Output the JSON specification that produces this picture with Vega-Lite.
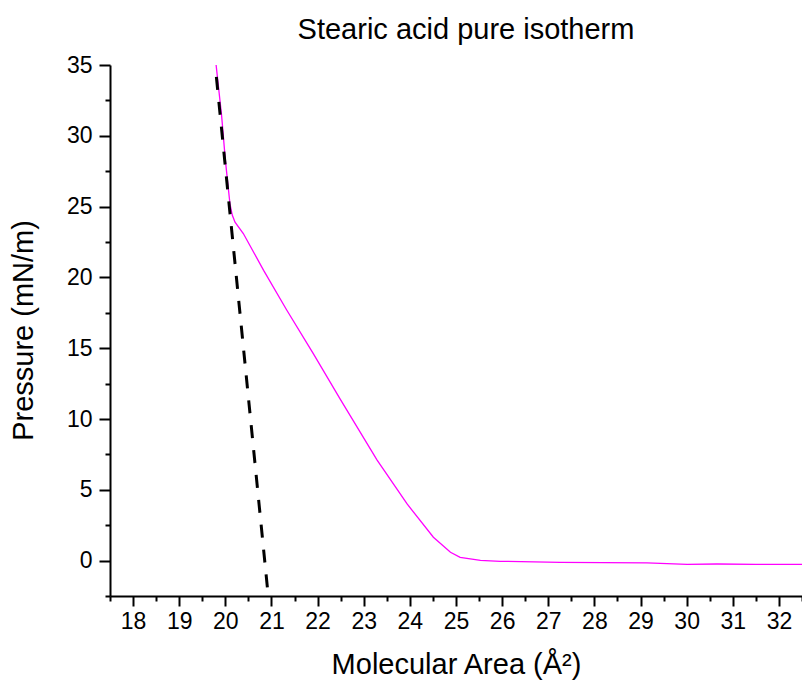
{
  "$schema": "https://vega.github.io/schema/vega-lite/v6.json",
  "autosize": "none",
  "width": 692,
  "height": 531,
  "padding": {"left": 110, "top": 65, "right": 0, "bottom": 84},
  "background": "white",
  "title": {
    "text": "Stearic acid pure isotherm",
    "font": "Liberation Sans",
    "fontSize": 29,
    "fontWeight": "normal",
    "color": "black",
    "frame": "group",
    "anchor": "middle",
    "baseline": "alphabetic",
    "dx": 10,
    "dy": 32,
    "offset": 18
  },
  "config": {
    "view": {"stroke": null},
    "axis": {
      "domainColor": "black",
      "domainWidth": 2,
      "tickColor": "black",
      "tickWidth": 2,
      "labelFont": "Liberation Sans",
      "labelFontSize": 23,
      "labelColor": "black",
      "titleFont": "Liberation Sans",
      "titleFontSize": 29,
      "titleFontWeight": "normal",
      "titleColor": "black",
      "grid": false
    }
  },
  "datasets": {
    "isotherm": [
      {"area": 19.80, "pressure": 35.0},
      {"area": 19.92, "pressure": 31.4},
      {"area": 20.00, "pressure": 28.3},
      {"area": 20.10, "pressure": 25.2},
      {"area": 20.15, "pressure": 24.4},
      {"area": 20.21, "pressure": 23.9},
      {"area": 20.39, "pressure": 23.1},
      {"area": 20.83, "pressure": 20.5},
      {"area": 21.33, "pressure": 17.7},
      {"area": 21.91, "pressure": 14.6},
      {"area": 22.49, "pressure": 11.4},
      {"area": 23.29, "pressure": 7.1},
      {"area": 23.94, "pressure": 4.0},
      {"area": 24.51, "pressure": 1.65},
      {"area": 24.88, "pressure": 0.59},
      {"area": 25.09, "pressure": 0.23},
      {"area": 25.53, "pressure": 0.02},
      {"area": 25.96, "pressure": -0.05},
      {"area": 27.26, "pressure": -0.12},
      {"area": 29.14, "pressure": -0.16},
      {"area": 30.01, "pressure": -0.26},
      {"area": 30.66, "pressure": -0.24},
      {"area": 31.5, "pressure": -0.26},
      {"area": 32.5, "pressure": -0.27}
    ],
    "fit": [
      {"area": 19.78, "pressure": 35.0},
      {"area": 20.93, "pressure": -2.5}
    ]
  },
  "encoding": {
    "x": {
      "field": "area",
      "type": "quantitative",
      "scale": {"domain": [17.5, 32.5], "nice": false, "zero": false},
      "axis": {
        "title": "Molecular Area (Å²)",
        "values": [17.5, 18, 18.5, 19, 19.5, 20, 20.5, 21, 21.5, 22, 22.5, 23, 23.5, 24, 24.5, 25, 25.5, 26, 26.5, 27, 27.5, 28, 28.5, 29, 29.5, 30, 30.5, 31, 31.5, 32, 32.5],
        "labelExpr": "datum.value % 1 === 0 ? format(datum.value, 'd') : ''",
        "tickSize": {"condition": {"test": "datum.value % 1 === 0", "value": 10}, "value": 5},
        "labelPadding": 4,
        "labelFlush": false,
        "labelOverlap": false,
        "titleY": 77,
        "titleBaseline": "alphabetic"
      }
    },
    "y": {
      "field": "pressure",
      "type": "quantitative",
      "scale": {"domain": [-2.5, 35], "nice": false, "zero": false},
      "axis": {
        "title": "Pressure (mN/m)",
        "values": [-2.5, 0, 2.5, 5, 7.5, 10, 12.5, 15, 17.5, 20, 22.5, 25, 27.5, 30, 32.5, 35],
        "labelExpr": "datum.value % 5 === 0 ? format(datum.value, 'd') : ''",
        "tickSize": {"condition": {"test": "datum.value % 5 === 0", "value": 11}, "value": 5},
        "labelPadding": 7,
        "labelFlush": false,
        "labelOverlap": false,
        "titleX": -78,
        "titleY": 265,
        "titleBaseline": "alphabetic",
        "titleAngle": -90,
        "titleAlign": "center"
      }
    }
  },
  "layer": [
    {
      "data": {"name": "isotherm"},
      "mark": {"type": "line", "color": "#ff00ff", "strokeWidth": 1.3, "clip": true}
    },
    {
      "data": {"name": "fit"},
      "mark": {"type": "line", "color": "black", "strokeWidth": 3, "strokeDash": [13, 12], "strokeDashOffset": 13, "clip": true}
    }
  ]
}
